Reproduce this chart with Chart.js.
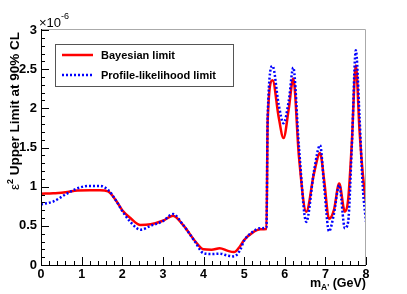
<!DOCTYPE html>
<html lang="en">
<head>
  <meta charset="UTF-8">
  <title>Dark photon limit</title>
  <script src="https://cdn.jsdelivr.net/npm/chart.js"></script>
  <style>
    html, body { margin: 0; padding: 0; background: #fff; }
    #wrap { width: 407px; height: 294px; }
  </style>
</head>
<body>
  <div id="wrap"><canvas id="limitChart" width="407" height="294"></canvas></div>

  <script>
    // A' mass (GeV)
    const massValues = [0, 0.3, 0.6, 0.9, 1.2, 1.45, 1.65, 1.85, 2.0, 2.2, 2.45, 2.7, 3.0, 3.25, 3.5, 3.8,
      4.0, 4.2, 4.4, 4.6, 4.75, 4.9, 5.0, 5.2, 5.4, 5.55, 5.58, 5.7, 5.85, 5.97, 6.1, 6.21, 6.35, 6.53,
      6.72, 6.87, 6.97, 7.09, 7.21, 7.34, 7.48, 7.56, 7.65, 7.75, 7.84, 7.92, 8.0];
    // epsilon^2 upper limit, units of 1e-6
    const bayesValues = [0.91, 0.915, 0.93, 0.95, 0.955, 0.955, 0.94, 0.82, 0.70, 0.60, 0.51, 0.52, 0.565, 0.63, 0.51, 0.30,
      0.20, 0.195, 0.215, 0.18, 0.165, 0.24, 0.32, 0.41, 0.455, 0.46, 1.85, 2.36, 1.89, 1.62, 2.0, 2.38, 1.38, 0.68,
      1.17, 1.43, 1.08, 0.59, 0.70, 1.04, 0.68, 0.83, 1.55, 2.55, 1.72, 1.17, 0.79];
    const profileValues = [0.775, 0.81, 0.90, 0.98, 1.01, 1.01, 0.96, 0.82, 0.69, 0.55, 0.45, 0.50, 0.56, 0.65, 0.51, 0.29,
      0.15, 0.14, 0.145, 0.12, 0.11, 0.19, 0.31, 0.42, 0.47, 0.48, 1.9, 2.54, 2.05, 1.81, 2.1, 2.52, 1.5, 0.55,
      1.2, 1.53, 1.0, 0.43, 0.65, 1.02, 0.47, 0.55, 1.5, 2.74, 1.9, 1.0, 0.55];
    const seriesLabels = ['Bayesian limit', 'Profile-likelihood limit'];

    const FONT = '"Liberation Sans", Arial, sans-serif';

    function pts(ys) {
      return massValues.map((m, i) => ({ x: m, y: ys[i] }));
    }

    // ROOT-like frame, inward ticks, titles and legend
    const rootStyle = {
      id: 'rootStyle',
      afterDatasetsDraw(chart) {
        const { ctx, chartArea: a, scales } = chart;
        const xs = scales.x, ys = scales.y;
        ctx.save();
        ctx.lineWidth = 1;
        // top/right frame in grey, axes in black
        ctx.strokeStyle = '#aaa';
        ctx.beginPath();
        ctx.moveTo(a.left, a.top - 0.5);
        ctx.lineTo(a.right - 0.5, a.top - 0.5);
        ctx.lineTo(a.right - 0.5, a.bottom);
        ctx.stroke();
        ctx.strokeStyle = '#000';
        ctx.beginPath();
        ctx.moveTo(a.left + 0.5, a.top - 1);
        ctx.lineTo(a.left + 0.5, a.bottom + 0.5);
        ctx.lineTo(a.right, a.bottom + 0.5);
        ctx.stroke();

        ctx.beginPath();
        for (let i = 0; i <= 40; i++) {
          const px = Math.round(xs.getPixelForValue(i * 0.2)) + 0.5;
          const len = i % 5 === 0 ? 8 : 4;
          ctx.moveTo(px, a.bottom);
          ctx.lineTo(px, a.bottom - len);
        }
        for (let i = 0; i <= 30; i++) {
          const py = Math.round(ys.getPixelForValue(i * 0.1)) + 0.5;
          const len = i % 5 === 0 ? 8 : 4;
          ctx.moveTo(a.left, py);
          ctx.lineTo(a.left + len, py);
        }
        ctx.stroke();

        // exponent
        ctx.fillStyle = '#000';
        ctx.textBaseline = 'alphabetic';
        ctx.textAlign = 'left';
        ctx.font = '13px ' + FONT;
        ctx.fillText('\u00d710', a.left - 2, a.top - 3);
        ctx.font = '9px ' + FONT;
        ctx.fillText('-6', a.left + 20, a.top - 11);

        // y title
        ctx.save();
        ctx.translate(19, a.top + 2);
        ctx.rotate(-Math.PI / 2);
        ctx.textAlign = 'right';
        ctx.font = 'bold 13.5px ' + FONT;
        const rest = ' Upper Limit at 90% CL';
        ctx.fillText(rest, 0, 0);
        const wRest = ctx.measureText(rest).width;
        ctx.font = 'bold 9px ' + FONT;
        const w2 = ctx.measureText('2').width;
        ctx.fillText('2', -wRest, -6);
        ctx.font = '13.5px ' + FONT;
        ctx.fillText('\u03b5', -wRest - w2, 0);
        ctx.restore();

        // x title
        ctx.textAlign = 'right';
        ctx.font = 'bold 12.5px ' + FONT;
        const gev = ' (GeV)';
        ctx.fillText(gev, a.right, 287);
        const wg = ctx.measureText(gev).width;
        ctx.font = 'bold 8.5px ' + FONT;
        ctx.fillText("A'", a.right - wg, 290);
        const wa = ctx.measureText("A'").width;
        ctx.font = 'bold 12.5px ' + FONT;
        ctx.fillText('m', a.right - wg - wa, 287);

        // legend
        const lx = 55, ly = 44, lw = 178, lh = 42;
        ctx.fillStyle = '#fff';
        ctx.fillRect(lx, ly, lw, lh);
        ctx.strokeStyle = '#555';
        ctx.lineWidth = 1;
        ctx.strokeRect(lx + 0.5, ly + 0.5, lw, lh);
        const rows = [55, 75];
        chart.data.datasets.forEach((ds, i) => {
          ctx.strokeStyle = ds.borderColor;
          ctx.lineWidth = ds.borderWidth;
          ctx.setLineDash(ds.borderDash || []);
          ctx.beginPath();
          ctx.moveTo(62, rows[i]);
          ctx.lineTo(93, rows[i]);
          ctx.stroke();
          ctx.setLineDash([]);
          ctx.fillStyle = '#000';
          ctx.textAlign = 'left';
          ctx.textBaseline = 'middle';
          ctx.font = 'bold 11px ' + FONT;
          ctx.fillText(ds.label, 101, rows[i] + 1);
        });
        ctx.restore();
      }
    };

    const ctx = document.getElementById('limitChart').getContext('2d');
    new Chart(ctx, {
      type: 'line',
      data: {
        datasets: [{
          label: seriesLabels[0],
          data: pts(bayesValues),
          borderColor: '#ff0000',
          borderWidth: 2.5,
          pointRadius: 0,
          cubicInterpolationMode: 'monotone',
          order: 1
        }, {
          label: seriesLabels[1],
          data: pts(profileValues),
          borderColor: '#0000ff',
          borderWidth: 2.5,
          borderDash: [2, 2],
          pointRadius: 0,
          cubicInterpolationMode: 'monotone',
          order: 0
        }]
      },
      options: {
        responsive: false,
        animation: false,
        layout: { padding: { left: 0, right: 41, top: 30, bottom: 0 } },
        plugins: { legend: { display: false }, tooltip: { enabled: false } },
        scales: {
          x: {
            type: 'linear',
            min: 0,
            max: 8,
            grid: { display: false, drawTicks: false },
            border: { display: false },
            afterFit(s) { s.height = 29; },
            ticks: {
              stepSize: 1,
              padding: 2,
              color: '#000',
              maxRotation: 0,
              font: { family: FONT, size: 12.5, weight: 'bold' }
            }
          },
          y: {
            min: 0,
            max: 3,
            grid: { display: false, drawTicks: false },
            border: { display: false },
            afterFit(s) { s.width = 41; },
            ticks: {
              stepSize: 0.5,
              padding: 4,
              color: '#000',
              callback: v => String(+v.toFixed(1)),
              font: { family: FONT, size: 13, weight: 'bold' }
            }
          }
        }
      },
      plugins: [rootStyle]
    });
  </script>
</body>
</html>
